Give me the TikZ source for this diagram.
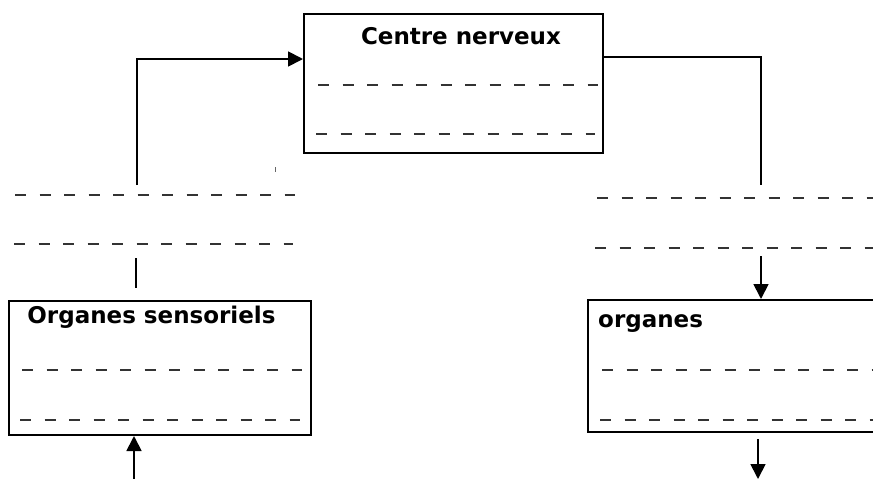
\documentclass[tikz,border=0pt]{standalone}
\usepackage{fontspec}
\setmainfont{DejaVu Sans}
\usetikzlibrary{arrows.meta,calc}
\tikzset{
  box/.style={draw,line width=2pt,inner sep=0pt},
  title/.style={font=\bfseries\fontsize{23}{27}\selectfont,inner sep=0pt},
  dashline/.style={line width=2pt,black!80,dash pattern=on 11pt off 13.5pt},
  link/.style={line width=1.8pt},
  arr/.style={link,-{Triangle[length=15pt,width=15pt]}}
}
\begin{document}
\begin{tikzpicture}
\begin{scope}[x=1pt,y=-1pt]
\useasboundingbox (0,0) rectangle (873,479);
\clip (0,0) rectangle (873,479);
\node [box,minimum width=299pt,minimum height=139pt] (centre) at (453.5,83.5) {};
\node [box,minimum width=302pt,minimum height=134pt] (sens) at (160,368) {};
\node [box,minimum width=302pt,minimum height=132pt] (org) at (739,366) {};
\node [title,anchor=base] (centreT) at (461,44) {Centre nerveux};
\node [title,anchor=base] (sensT) at (151.5,323) {Organes sensoriels};
\node [title,anchor=base west] (orgT) at (598,327) {organes};
\draw [dashline] (318,85) -- (598,85) (316,134) -- (595,134);
\draw [dashline] (15,195) -- (295,195) (14,244) -- (293,244);
\draw [dashline] (597,198) -- (873,198) (595,248) -- (873,248);
\draw [dashline] (22,370) -- (302,370) (20,420) -- (300,420);
\draw [dashline] (602,370) -- (873,370) (600,420) -- (873,420);
\coordinate (upL) at (137,185);
\coordinate (midL) at (136,258);
\coordinate (inB) at (134,479);
\coordinate (dnR) at (761,185);
\coordinate (midR) at (761,256);
\coordinate (outB) at (758,479);
\draw [arr] (upL) |- ($(centre.north west)+(0,46)$);
\draw [link] ($(centre.north east)+(0,44)$) -| (dnR);
\draw [link] (midL) -- ($(midL)+(0,30)$);
\draw [arr] (inB) -- (inB |- sens.south);
\draw [arr] (midR) -- (midR |- org.north);
\draw [arr] ($(org.south -| outB)+(0,6)$) -- (outB);
\draw [line width=0.8pt,black!60] (275,167) -- (275,172);
\end{scope}
\end{tikzpicture}
\end{document}
